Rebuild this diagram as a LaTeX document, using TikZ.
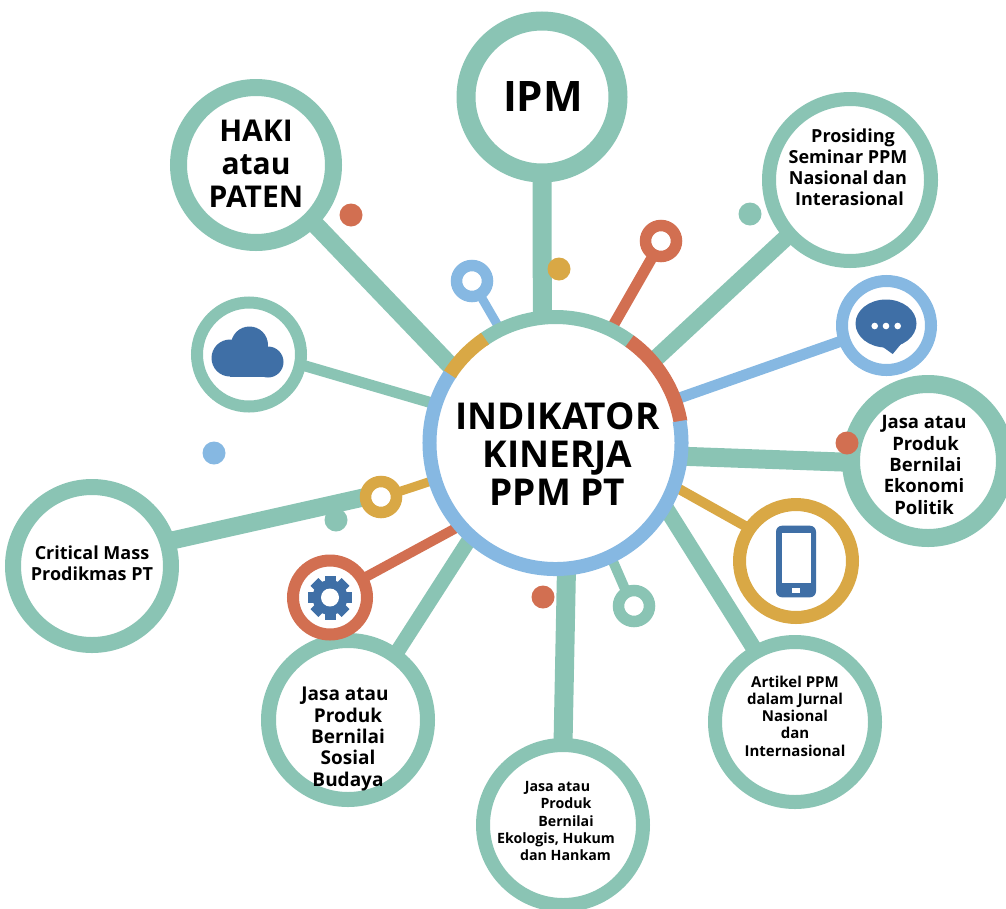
\documentclass[tikz,border=0pt]{standalone}
\usepackage{fontspec}
\setmainfont{Open Sans}
\usetikzlibrary{backgrounds}
\definecolor{cG}{HTML}{8AC4B4}
\definecolor{cB}{HTML}{86B8E2}
\definecolor{cY}{HTML}{D9A845}
\definecolor{cR}{HTML}{D26F51}
\definecolor{cD}{HTML}{3F6FA6}
\tikzset{
  x=1pt,y=-1pt,
  ring/.style n args={3}{circle,draw=#1,fill=white,line width=#3pt,minimum size=2*#2pt,inner sep=0pt,outer sep=0pt},
  spoke/.style n args={2}{draw=#1,line width=#2pt,line cap=butt},
  dot/.style={circle,fill=#1,minimum size=23pt,inner sep=0pt,outer sep=0pt},
  lab/.style n args={2}{align=center,inner sep=0pt,font=\fontsize{#1}{#2}\selectfont\bfseries,text=black},
}
\begin{document}
\begin{tikzpicture}
\useasboundingbox (0,0) rectangle (1006,908);
% hub
\node[circle,fill=white,minimum size=252pt,inner sep=0pt,outer sep=0pt] (hub) at (555.5,443) {};
% satellite circles
\node[ring={cG}{76}{19}] (ipm) at (542,97) {};
\node[ring={cG}{77.5}{17}] (haki) at (256,165) {};
\node[ring={cG}{81}{14}] (pros) at (850,180) {};
\node[ring={cG}{52}{12}] (cloud) at (249,354.5) {};
\node[ring={cB}{44.5}{12}] (chat) at (886.5,325.5) {};
\node[ring={cG}{77}{18}] (eko) at (928,461) {};
\node[ring={cY}{56.5}{13}] (phone) at (796,561) {};
\node[ring={cG}{80}{14}] (art) at (795,722) {};
\node[ring={cG}{80}{14}] (ekol) at (563,825) {};
\node[ring={cG}{79.5}{15}] (sos) at (348,720) {};
\node[ring={cR}{37}{12}] (gear) at (330,597.5) {};
\node[ring={cG}{79}{16}] (crit) at (92,566) {};
% small rings
\node[ring={cY}{15.5}{11.5}] (ry) at (381,497) {};
\node[ring={cB}{15.5}{11.5}] (rb) at (472,281) {};
\node[ring={cR}{15.5}{11.5}] (rr) at (661,241) {};
\node[ring={cG}{15.5}{11.5}] (rg) at (634,606) {};
% connectors
\begin{scope}[on background layer]
\draw[spoke={cG}{19}] (hub.96.5) -- (ipm.270);
\draw[spoke={cG}{18}] (hub.144.3) -- (haki.-45);
\draw[spoke={cG}{17}] (hub.40) -- (pros.222.7);
\draw[spoke={cR}{11}] (hub.64) -- (rr.242);
\draw[spoke={cB}{9}] (hub.116.4) -- (rb.300);
\draw[spoke={cG}{11}] (hub.162.6) -- (cloud.-11.6);
\draw[spoke={cB}{11}] (hub.20.8) -- (chat.199.8);
\draw[spoke={cG}{19}] (hub.-6.5) -- (eko.181);
\draw[spoke={cY}{10}] (hub.-20.7) -- (phone.145);
\draw[spoke={cG}{16}] (hub.-30) -- (art.119);
\draw[spoke={cG}{10}] (hub.-64.2) -- (rg.119);
\draw[spoke={cG}{19}] (hub.-85.7) -- (ekol.90.7);
\draw[spoke={cG}{15}] (hub.228) -- (sos.54);
\draw[spoke={cR}{10}] (hub.221) -- (gear.30.4);
\draw[spoke={cG}{18}] (crit.18.6) -- (ry.180);
\draw[spoke={cY}{9}] (hub.197) -- (ry.16);
\end{scope}
% hub ring segments
\draw[cG,line width=14pt] (hub.125) arc[start angle=125,end angle=53.5,radius=126pt];
\draw[cR,line width=14pt] (hub.54.5) arc[start angle=54.5,end angle=10,radius=126pt];
\draw[cB,line width=14pt] (hub.146) arc[start angle=146,end angle=370,radius=126pt];
\draw[cY,line width=14pt] (hub.147) arc[start angle=147,end angle=124,radius=126pt];
% dots
\node[dot=cR] (d1) at (351,215) {};
\node[dot=cY] (d2) at (559,269) {};
\node[dot=cG] (d3) at (750,214) {};
\node[dot=cB] (d4) at (214,453) {};
\node[dot=cG] (d5) at (336,520) {};
\node[dot=cR] (d6) at (847,443) {};
\node[dot=cR] (d7) at (543,597) {};
% cloud icon
\fill[cD] (249.5,345) circle[radius=18.5pt] (230,358) circle[radius=18.5pt] (268,362) circle[radius=15.5pt];
\fill[cD] (230,345) rectangle (268,377.3);
% gear icon
\foreach \a in {0,45,...,315}{\fill[cD,shift={(330,597.5)},rotate=\a] (-5.5,-22) rectangle (5.5,0);}
\fill[cD] (330,597.5) circle[radius=17.5pt];
\fill[white] (330,597.5) circle[radius=9pt];
% chat icon
\fill[cD] (886,323.5) ellipse[x radius=30.5pt,y radius=24pt];
\fill[cD] (880,345) -- (892.7,354) -- (906,338) -- cycle;
\fill[white] (874.7,326) circle[radius=3.3pt] (886,326) circle[radius=3.3pt] (897.7,326) circle[radius=3.3pt];
% phone icon
\fill[cD,rounded corners=6pt] (776,525.7) rectangle (816,597.3);
\fill[white] (781.7,532.7) rectangle (810.7,583.3);
\fill[white] (792.3,588.3) rectangle (800,592.7);
% labels
\node[align=center,inner sep=0pt,font=\fontsize{37}{38}\selectfont\bfseries] (thub) at (557.5,454) {INDIKATOR\\KINERJA\\PPM PT};
\node[lab={42}{46}] (tipm) at (543,97) {IPM};
\node[lab={30}{33}] (thaki) at (256,164) {HAKI\\atau\\PATEN};
\node[lab={18}{21}] (tpros) at (848,167) {\hspace*{10pt}Prosiding\\Seminar PPM\\Nasional dan\\\hspace*{3pt}Interasional};
\node[lab={18.5}{21.3}] (teko) at (924,465) {Jasa atau\\\hspace*{3pt}Produk\\\hspace*{3pt}Bernilai\\Ekonomi\\Politik};
\node[lab={15}{17.3}] (tart) at (795,716) {Artikel PPM\\dalam Jurnal\\Nasional\\dan\\Internasional};
\node[lab={14.2}{17.3}] (tekol) at (556,821) {\hspace*{3pt}Jasa atau\\\hspace*{20pt}Produk\\\hspace*{20pt}Bernilai\\Ekologis, Hukum\\\hspace*{19pt}dan Hankam};
\node[lab={18}{21}] (tcrit) at (92,563) {Critical Mass\\Prodikmas PT};
\node[lab={19}{21.3}] (tsos) at (348,739) {\hspace*{-6pt}Jasa atau\\Produk\\Bernilai\\Sosial\\Budaya};
\end{tikzpicture}
\end{document}
